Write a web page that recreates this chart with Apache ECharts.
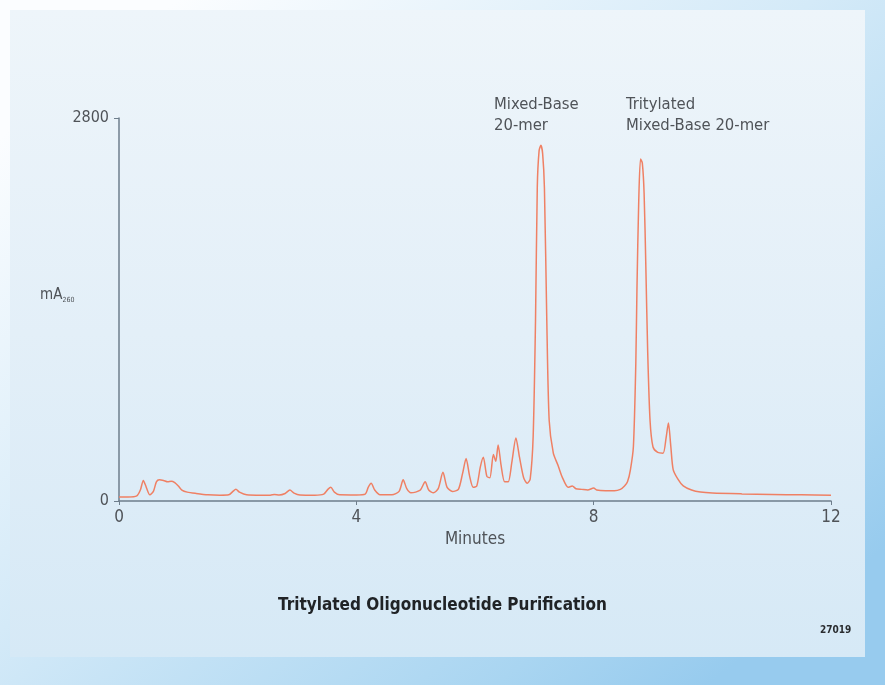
<!DOCTYPE html>
<html>
<head>
<meta charset="utf-8">
<title>Tritylated Oligonucleotide Purification</title>
<script src="https://cdn.jsdelivr.net/npm/echarts@6/dist/echarts.min.js"></script>
<style>
  html, body { margin: 0; padding: 0; background: #ffffff; }
  #chart { width: 885px; height: 685px; }
</style>
</head>
<body>
<div id="chart"></div>
<script>
// Retention time (minutes) and absorbance (mA at 260 nm) of the chromatogram trace
const minutes = [
  0.00, 0.15, 0.30, 0.36, 0.41, 0.46, 0.52, 0.58, 0.63, 0.68, 0.75, 0.82, 0.88, 0.94, 1.00, 1.06,
  1.15, 1.30, 1.50, 1.70, 1.85, 1.92, 1.97, 2.03, 2.15, 2.40, 2.55, 2.62, 2.70, 2.80, 2.88, 2.95,
  3.05, 3.30, 3.45, 3.52, 3.57, 3.63, 3.72, 4.00, 4.15, 4.20, 4.25, 4.31, 4.40, 4.60, 4.72, 4.79,
  4.85, 4.92, 5.00, 5.08, 5.16, 5.22, 5.30, 5.38, 5.46, 5.53, 5.62, 5.72, 5.79, 5.85, 5.91, 5.97,
  6.03, 6.09, 6.14, 6.20, 6.25, 6.31, 6.35, 6.39, 6.44, 6.50, 6.56, 6.62, 6.69, 6.75, 6.82, 6.88,
  6.93, 6.98, 7.02, 7.05, 7.08, 7.11, 7.14, 7.17, 7.21, 7.25, 7.32, 7.40, 7.47, 7.57, 7.64, 7.70,
  7.80, 7.90, 8.00, 8.05, 8.20, 8.35, 8.45, 8.52, 8.57, 8.62, 8.67, 8.71, 8.73, 8.76, 8.79, 8.82,
  8.85, 8.88, 8.91, 8.95, 9.00, 9.08, 9.17, 9.22, 9.26, 9.30, 9.34, 9.42, 9.51, 9.65, 9.80, 10.00,
  10.50, 11.00, 11.50, 12.00
];
const absorbance = [
  30, 30, 38, 80, 150, 100, 45, 70, 140, 155, 150, 140, 145, 135, 110, 80,
  65, 55, 45, 42, 45, 70, 85, 65, 45, 42, 42, 48, 44, 55, 80, 58,
  44, 42, 50, 85, 100, 65, 45, 44, 50, 100, 130, 80, 45, 45, 70, 155,
  90, 60, 65, 80, 140, 80, 60, 90, 210, 100, 70, 85, 200, 310, 180, 100,
  110, 250, 320, 180, 170, 340, 290, 410, 260, 140, 140, 280, 460, 320, 170, 130,
  160, 470, 1320, 2300, 2560, 2600, 2540, 2290, 1320, 590, 350, 260, 175, 100, 110, 90,
  85, 80, 95, 80, 75, 75, 85, 110, 140, 230, 400, 1000, 1560, 2200, 2500, 2470,
  2250, 1700, 1100, 590, 395, 355, 350, 460, 570, 400, 230, 160, 110, 80, 65, 58,
  52, 48, 45, 42
];
const xTicks = [0, 4, 8, 12];
const yTicks = [0, 2800];

const FONT = "'Liberation Sans Narrow', 'DejaVu Sans Condensed', 'Liberation Sans', sans-serif";
const AXIS_COLOR = '#6e7e8c';
const TEXT_COLOR = '#4f5358';

const chart = echarts.init(document.getElementById('chart'), null, { renderer: 'canvas' });

const trace = minutes.map((t, i) => [t, absorbance[i]]);

chart.setOption({
  animation: false,
  backgroundColor: '#ffffff',
  graphic: [
    // outer blue frame
    {
      type: 'rect', z: -10, silent: true,
      shape: { x: 0, y: 0, width: 885, height: 685 },
      style: {
        fill: new echarts.graphic.LinearGradient(0.2, 0, 0.8, 1, [
          { offset: 0, color: '#fbfdff' },
          { offset: 0.45, color: '#d4eaf8' },
          { offset: 0.85, color: '#a9d5f1' },
          { offset: 1, color: '#97cbee' }
        ])
      }
    },
    // light panel
    {
      type: 'rect', z: -9, silent: true,
      shape: { x: 10, y: 10, width: 855, height: 647 },
      style: {
        fill: new echarts.graphic.LinearGradient(0, 0, 0, 1, [
          { offset: 0, color: '#eef5fa' },
          { offset: 0.5, color: '#e3eff8' },
          { offset: 1, color: '#d6e9f6' }
        ])
      }
    },
    // y axis unit
    {
      type: 'text', left: 40, top: 288, silent: true,
      style: {
        text: '{a|mA}{s|260}',
        font: '15px ' + FONT,
        fill: TEXT_COLOR,
        rich: {
          a: { fontSize: 15, fontFamily: FONT, fill: TEXT_COLOR },
          s: { fontSize: 7, fontFamily: FONT, fill: TEXT_COLOR, verticalAlign: 'bottom', padding: [9, 0, 0, 0] }
        }
      }
    },
    // peak annotations
    {
      type: 'text', left: 494, top: 94, silent: true,
      style: { text: 'Mixed-Base\n20-mer', font: '16.5px ' + FONT, fill: TEXT_COLOR, lineHeight: 21 }
    },
    {
      type: 'text', left: 626, top: 94, silent: true,
      style: { text: 'Tritylated\nMixed-Base 20-mer', font: '16.5px ' + FONT, fill: TEXT_COLOR, lineHeight: 21 }
    },
    // caption
    {
      type: 'text', left: 'center', top: 597, silent: true,
      style: { text: 'Tritylated Oligonucleotide Purification', font: 'bold 17px ' + FONT, fill: '#202326' }
    },
    {
      type: 'text', left: 820, top: 625, silent: true,
      style: { text: '27019', font: 'bold 10px ' + FONT, fill: '#2a2d30' }
    }
  ],
  grid: { left: 119, right: 54, top: 118, bottom: 184, containLabel: false },
  xAxis: {
    type: 'value',
    min: 0, max: 12, interval: 4,
    name: 'Minutes',
    nameLocation: 'middle',
    nameGap: 29,
    nameTextStyle: { fontFamily: FONT, fontSize: 17, color: TEXT_COLOR },
    axisLine: { lineStyle: { color: AXIS_COLOR, width: 1.5 } },
    axisTick: { show: true, length: 4, lineStyle: { color: AXIS_COLOR }, customValues: xTicks },
    axisLabel: { fontFamily: FONT, fontSize: 17, color: TEXT_COLOR, margin: 8, customValues: xTicks },
    splitLine: { show: false }
  },
  yAxis: {
    type: 'value',
    min: 0, max: 2800,
    axisLine: { show: true, lineStyle: { color: AXIS_COLOR, width: 1.5 } },
    axisTick: { show: true, length: 5, lineStyle: { color: AXIS_COLOR }, customValues: yTicks },
    axisLabel: {
      fontFamily: FONT, fontSize: 16, color: TEXT_COLOR, margin: 10, customValues: yTicks,
      formatter: (v) => String(v)
    },
    splitLine: { show: false }
  },
  series: [{
    type: 'line',
    data: trace,
    showSymbol: false,
    smooth: 0.25,
    lineStyle: { color: '#ef8064', width: 1.5 },
    silent: true
  }]
});
</script>
</body>
</html>
